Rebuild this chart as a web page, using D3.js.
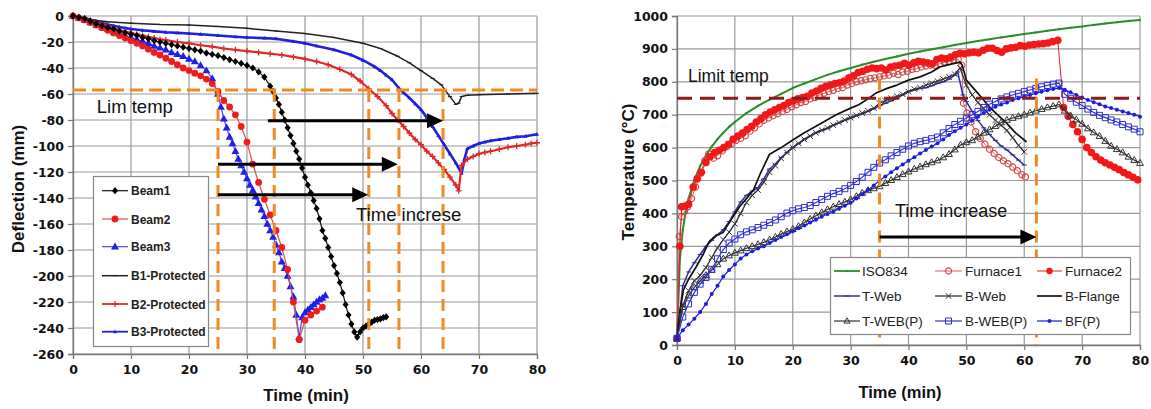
<!DOCTYPE html>
<html><head><meta charset="utf-8">
<script src="https://cdn.jsdelivr.net/npm/d3@7"></script>
<style>body{margin:0;background:#fff}svg{display:block}</style>
</head><body>
<svg id="c" width="1151" height="409"></svg>
<script>
// ---------------- LEFT PANEL DATA (Deflection, mm vs time, min) ----------------
const timeTicks = [0,10,20,30,40,50,60,70,80];
const deflTicks = [0,-20,-40,-60,-80,-100,-120,-140,-160,-180,-200,-220,-240,-260];
const tempTicks = [0,100,200,300,400,500,600,700,800,900,1000];

const beam1 = [[0,0],[1,-1],[2,-2],[3,-4],[4,-6],[5,-7.5],[6,-9],[7,-10],[8,-11.5],[9,-13],[10,-14],[11,-15],[12,-16.5],[13,-17.5],[14,-19],[15,-20],[16,-21],[17,-22],[18,-23],[19,-24],[20,-25],[21,-26],[22,-27],[23,-28.5],[24,-29.5],[25,-30.5],[26,-32],[27,-33.5],[28,-35],[29,-36.5],[30,-38],[31,-40],[32,-43],[33,-47],[34,-54],[34.5,-58],[35,-63],[35.5,-68],[36,-74],[36.5,-80],[37,-86],[37.5,-92],[38,-98],[38.5,-104],[39,-110],[39.5,-117],[40,-124],[40.5,-130],[41,-136],[41.5,-142],[42,-148],[42.5,-156],[43,-165],[43.5,-171],[44,-178],[44.5,-185],[45,-192],[45.5,-198],[46,-205],[46.5,-213],[47,-222],[47.5,-230],[48,-237],[48.5,-243],[49,-247],[49.5,-243],[50,-240],[50.5,-238.5],[51,-237],[51.5,-235.5],[52,-234],[52.5,-233.5],[53,-233],[53.5,-232],[54,-231.5]];
const beam2 = [[0,0],[1,-1.5],[2,-3],[3,-5],[4,-7],[5,-9],[6,-11],[7,-13],[8,-15],[9,-17],[10,-19],[11,-21],[12,-23],[13,-25.5],[14,-28],[15,-30],[16,-32.5],[17,-35],[18,-37.5],[19,-40],[20,-42],[21,-44],[22,-46],[23,-48.5],[24,-52],[25,-58],[26,-65],[27,-70],[28,-76],[29,-85],[30,-97],[31,-114],[32,-128],[33,-141],[34,-153],[35,-165],[36,-178],[37,-195],[38,-220],[39,-249],[40,-234],[41,-230],[42,-227],[43,-224]];
const beam3 = [[0,0],[1,-1.5],[2,-3],[3,-5],[4,-7],[5,-8.5],[6,-10],[7,-12],[8,-13.5],[9,-15],[10,-16.5],[11,-18],[12,-19.5],[13,-21],[14,-23],[15,-24.5],[16,-26],[17,-28],[18,-29.5],[19,-31],[20,-33],[21,-35],[22,-38],[23,-42],[24,-48],[25,-60],[25.5,-70],[26,-79],[26.5,-86],[27,-93],[27.5,-98],[28,-104],[28.5,-110],[29,-115],[29.5,-120],[30,-125],[30.5,-130],[31,-134],[31.5,-139],[32,-144],[32.5,-149],[33,-154],[33.5,-160],[34,-165],[34.5,-170],[35,-176],[35.5,-182],[36,-189],[36.5,-194],[37,-200],[37.5,-208],[38,-216],[38.5,-230],[39,-247],[39.5,-232],[40,-228],[40.5,-226],[41,-224],[41.5,-222],[42,-220],[42.5,-218],[43,-217],[43.5,-215]];
const b1p = [[0,0],[2,-2],[4,-3.5],[6,-4.5],[8,-5],[10,-5.5],[15,-6.5],[20,-7],[25,-8],[30,-9.5],[35,-11.5],[40,-13.5],[45,-16.5],[50,-21],[53,-25],[56,-31],[58,-36],[60,-42],[62,-48],[63.5,-53],[65,-62],[66,-68],[66.5,-67],[67,-62],[68,-61],[70,-60.5],[75,-60],[80,-59.5]];
const b2p = [[0,0],[1,-1],[2,-2],[3,-3.5],[4,-5],[5,-6.5],[6,-8],[7,-9.5],[8,-11],[9,-12],[10,-13],[11,-14],[12,-15],[13,-16],[14,-17],[15,-18],[16,-18.5],[18,-20],[20,-21],[22,-22.5],[24,-23.5],[26,-25],[28,-26],[30,-27],[32,-28],[34,-29],[36,-30],[38,-31.5],[40,-33],[42,-35],[44,-37.5],[46,-41],[48,-45],[49.5,-50],[51,-56],[52.5,-62],[54,-69],[55,-75],[56,-80],[57,-85],[58,-90],[59,-95],[60,-99],[61,-104],[62,-108],[63,-113],[64,-118],[65,-124],[66,-130],[66.5,-134.5],[67,-115],[68,-110],[69,-108],[70,-106],[71,-105],[72,-104],[73.5,-102.5],[75,-101],[76.5,-100],[78,-99],[79,-98],[80,-97.5]];
const b3p = [[0,0],[1,-0.8],[2,-1.5],[3,-2.8],[4,-4],[5,-5.3],[6,-6.5],[7,-7.5],[8,-8.5],[9,-9.3],[10,-10],[12,-11],[14,-11.8],[16,-12.5],[18,-13],[20,-13.5],[22,-14],[25,-15],[28,-16],[30,-16.5],[33,-17],[35,-17.5],[38,-19.5],[40,-21],[42,-23],[45,-26],[48,-30],[50,-34],[52,-39],[53,-42],[54,-45.5],[55,-49],[56.2,-55.6],[57,-59],[58,-63],[59,-67.5],[60,-72],[61,-78],[62,-85],[63,-92],[64,-99],[65,-106],[66,-113],[67,-121],[67.5,-110],[68,-102],[69,-100],[70,-98],[71,-97],[72,-96],[73.5,-95],[75,-94],[76.5,-93],[78,-92.5],[80,-91]];

// left annotations
const limDefl = -57;
const limTimesLeft = [25, 34.7, 51, 56.2, 63.8];
const arrowsLeft = [[33.6, 63.8, -80.5], [25, 56, -114], [25, 50.9, -137.5]];

// ---------------- RIGHT PANEL DATA (Temperature, °C vs time, min) ----------------
const iso834 = [[0,20],[0.5,260],[1,349],[1.5,405],[2,445],[3,502],[4,544],[5,576],[6,603],[7,626],[8,645],[9,663],[10,678],[12,705],[14,727],[16,746],[18,763],[20,781],[22,795],[24,808],[26,821],[28,832],[30,842],[32,852],[34,861],[36,869],[38,877],[40,885],[42,892],[44,899],[46,905],[48,912],[50,918],[52,924],[54,929],[56,935],[58,940],[60,945],[62,950],[64,955],[66,960],[68,964],[70,968],[72,973],[74,977],[76,981],[78,985],[80,988]];
const furnace1 = [[0,20],[0.4,330],[0.8,390],[1.3,405],[1.8,420],[2.5,445],[3.2,480],[4,520],[4.8,560],[5.5,581],[6.3,568],[7,575],[7.8,590],[8.6,603],[9.4,612],[10.2,622],[11,628],[11.8,636],[12.6,650],[13.4,660],[14.2,672],[15,683],[15.8,690],[16.6,697],[17.4,703],[18.2,710],[19,716],[19.8,724],[20.6,730],[21.4,737],[22.2,740],[23,748],[23.8,752],[24.6,760],[25.4,765],[26.2,770],[27,774],[27.8,780],[28.6,782],[29.4,790],[30.2,795],[31,800],[31.8,803],[32.6,806],[33.4,810],[34.2,812],[35,815],[35.8,818],[36.6,820],[37.4,826],[38.2,822],[39,830],[39.8,832],[40.6,838],[41.4,840],[42.2,845],[43,848],[43.8,851],[44.6,850],[45.4,855],[46.2,860],[47,862],[47.8,866],[48.6,868],[49.2,850],[49.5,735],[50.1,705],[50.8,678],[51.6,648],[52.4,628],[53.2,610],[54,595],[54.8,582],[55.6,570],[56.4,560],[57.2,551],[58,541],[58.8,530],[59.6,518],[60.2,511]];
const furnace2 = [[0,20],[0.5,300],[0.8,420],[1.4,422],[2,428],[2.8,480],[3.5,505],[4.2,525],[5,555],[5.7,572],[6.5,585],[7.3,592],[8.1,600],[8.9,610],[9.7,625],[10.5,635],[11.3,644],[12.1,655],[12.9,665],[13.7,678],[14.5,688],[15.3,700],[16.1,708],[16.9,715],[17.7,722],[18.5,728],[19.3,737],[20.1,742],[20.9,748],[21.7,752],[22.5,756],[23.3,766],[24.1,772],[24.9,780],[25.7,786],[26.5,790],[27.3,795],[28.1,797],[28.9,802],[29.7,812],[30.5,818],[31.3,828],[32.1,832],[32.9,838],[33.7,842],[34.5,840],[35.3,842],[36.1,836],[36.9,845],[37.7,848],[38.5,850],[39.3,856],[40.1,850],[40.9,858],[41.7,862],[42.5,860],[43.3,858],[44.1,855],[44.9,868],[45.7,872],[46.5,870],[47.3,875],[48.1,882],[48.9,887],[49.7,885],[50.5,888],[51.3,890],[52.1,888],[52.9,896],[53.7,902],[54.5,902],[55.3,895],[56.1,890],[56.9,900],[57.7,903],[58.5,905],[59.3,910],[60.1,908],[60.9,912],[61.7,913],[62.5,915],[63.3,916],[64.1,918],[64.9,922],[65.8,926],[66.8,722],[67.6,695],[68.4,670],[69.2,648],[70,625],[70.8,600],[71.6,585],[72.4,572],[73.2,562],[74,554],[74.8,547],[75.6,540],[76.4,533],[77.2,524],[78,517],[78.8,510],[79.6,502]];
const tWeb = [[0,20],[1,180],[2,222],[3,250],[4,275],[5,300],[6,318],[7,335],[8,350],[9,375],[10,405],[11,435],[12,455],[13,468],[14,478],[15,505],[16,535],[17,550],[18,570],[19,585],[20,600],[21,612],[22,625],[23,635],[24,645],[25,652],[26,658],[27,668],[28,675],[29,683],[30,690],[31,697],[32,703],[33,710],[34,718],[35,728],[36,735],[37,742],[38,750],[39,760],[40,770],[41,775],[42,780],[43,782],[44,788],[45,795],[46,800],[47,808],[48,820],[48.5,830],[49.4,760],[50,740],[51,710],[52,682],[53,660],[54,640],[55,622],[56,605],[57,593],[58,578],[59,562],[60,547]];
const bWeb = [[0,20],[1,120],[2,165],[3,195],[4,212],[5,235],[6,266],[7,295],[8,320],[9,343],[10,368],[11,400],[12,433],[13,455],[14,471],[15,495],[16,525],[17,545],[18,567],[19,585],[20,600],[21,613],[22,625],[23,635],[24,645],[25,653],[26,660],[27,668],[28,676],[29,684],[30,691],[31,698],[32,705],[33,712],[34,720],[35,735],[36,742],[37,750],[38,756],[39,762],[40,770],[41,778],[42,782],[43,790],[44,796],[45,802],[46,808],[47,815],[48,823],[48.9,842],[50,790],[51,760],[52,737],[53,718],[54,700],[55,683],[56,668],[57,652],[58,630],[59,607],[60,587]];
const bFlange = [[0,20],[0.5,100],[1.1,167],[2,200],[3.3,237],[4.5,275],[5.5,313],[6.5,330],[8,343],[9.5,385],[10.8,420],[12,445],[13.2,471],[14.5,525],[16,580],[18,600],[20,623],[22,645],[24.7,672],[27.5,700],[30,720],[31.4,730],[33,748],[34.3,765],[36.3,780],[38,790],[40,805],[42,815],[44,830],[45.4,845],[47,852],[48.9,860],[49.3,850],[50,805],[52,765],[54,723],[55.5,698],[56.9,675],[58.5,645],[60.4,617]];
const tWebP = [[0,20],[1,115],[2,150],[3,175],[4,195],[5,212],[6,228],[7,245],[8,262],[9,272],[10,280],[11,287],[12,294],[13,300],[14,306],[15,312],[16,320],[17,328],[18,337],[19,345],[20,352],[21,361],[22,372],[23,383],[24,393],[25,403],[26,412],[27,420],[28,428],[29,435],[30,442],[31,452],[32,462],[33,470],[34,476],[35,482],[36,492],[37,501],[38,510],[39,519],[40,527],[41,535],[42,542],[43,549],[44,555],[45,561],[46,570],[47,580],[48,594],[49,608],[50,616],[51,622],[52,633],[53,645],[54,655],[55,665],[56,676],[57,684],[58,690],[59,695],[60,700],[61,706],[62,712],[63,717],[64,722],[65,726],[66,731],[67,712],[68,697],[69,685],[70,672],[71,658],[72,646],[73,635],[74,620],[75,605],[76,595],[77,585],[78,572],[79,562],[80,553]];
const bWebP = [[0,20],[1,85],[2,125],[3,160],[4,185],[5,205],[6,230],[7,262],[8,290],[9,310],[10,322],[11,335],[12,344],[13,350],[14,357],[15,364],[16,372],[17,380],[18,390],[19,401],[20,408],[21,414],[22,418],[23,424],[24,433],[25,442],[26,452],[27,460],[28,467],[29,475],[30,485],[31,497],[32,510],[33,525],[34,540],[35,553],[36,563],[37,575],[38,585],[39,595],[40,605],[41,613],[42,618],[43,622],[44,627],[45,632],[46,645],[47,658],[48,670],[49,680],[50,690],[51,700],[52,710],[53,722],[54,732],[55,740],[56,748],[57,754],[58,760],[59,765],[60,770],[61,775],[62,780],[63,785],[64,789],[65,793],[66,796],[67,762],[68,750],[69,738],[70,728],[71,717],[72,707],[73,698],[74,691],[75,684],[76,678],[77,670],[78,663],[79,656],[80,648]];
const bfP = [[0,20],[1,45],[2,62],[3,80],[4,100],[5,125],[6,155],[7,180],[8,208],[9,228],[10,245],[11,263],[12,275],[13,285],[14,293],[15,300],[16,310],[17,319],[18,328],[19,337],[20,346],[21,355],[22,363],[23,372],[24,381],[25,390],[26,398],[27,405],[28,414],[29,423],[30,432],[31,445],[32,458],[33,471],[34,485],[35,500],[36,512],[37,525],[38,537],[39,549],[40,560],[41,571],[42,582],[43,593],[44,603],[45,613],[46,625],[47,638],[48,650],[49,660],[50,670],[51,682],[52,694],[53,705],[54,715],[55,724],[56,731],[57,737],[58,745],[59,750],[60,755],[61,760],[62,765],[63,770],[64,774],[65,778],[66,781],[67,776],[68,768],[69,760],[70,752],[71,745],[72,738],[73,732],[74,725],[75,720],[76,715],[77,710],[78,705],[79,700],[80,694]];

// right annotations
const limTemp = 750;
const limTimesRight = [35, 62.1];
const limTopRight = 810;
const arrowRight = [35, 62.1, 328];

// ---------------- DRAWING ----------------
const svg = d3.select('#c');
const FONT = "'Liberation Sans', Arial, sans-serif";
const TICKFONT = "'DejaVu Sans', sans-serif";

function markerPath(type, s) {
  switch (type) {
    case 'diamond': return `M0,${-s}L${s*0.85},0L0,${s}L${-s*0.85},0Z`;
    case 'circle': return `M${-s},0a${s},${s} 0 1,0 ${2*s},0a${s},${s} 0 1,0 ${-2*s},0Z`;
    case 'triangle': return `M0,${-s}L${s*0.95},${s*0.65}L${-s*0.95},${s*0.65}Z`;
    case 'square': return `M${-s},${-s}H${s}V${s}H${-s}Z`;
    case 'x': return `M${-s},${-s}L${s},${s}M${-s},${s}L${s},${-s}`;
    case 'plus': return `M${-s},0H${s}M0,${-s}V${s}`;
    case 'dash': return `M${-s},0H${s}`;
  }
  return '';
}

function drawPanel(cfg) {
  const x = d3.scaleLinear().domain([0, 80]).range(cfg.xr);
  const y = d3.scaleLinear().domain(cfg.yd).range(cfg.yr);
  const g = svg.append('g');
  const yTop = Math.min(...cfg.yr), yBot = Math.max(...cfg.yr);
  // grid
  g.append('g').selectAll('line').data(timeTicks).join('line')
    .attr('x1', d => x(d)).attr('x2', d => x(d)).attr('y1', yTop).attr('y2', yBot)
    .attr('stroke', '#9a9a9a').attr('stroke-width', 1.2);
  g.append('g').selectAll('line').data(cfg.yTicks).join('line')
    .attr('x1', cfg.xr[0]).attr('x2', cfg.xr[1]).attr('y1', d => y(d)).attr('y2', d => y(d))
    .attr('stroke', '#9a9a9a').attr('stroke-width', 1.2);
  // axes
  const ax = g.append('g').attr('transform', `translate(0,${yBot})`)
    .call(d3.axisBottom(x).tickValues(timeTicks).tickSize(5).tickPadding(6).tickFormat(d => String(d)));
  const ay = g.append('g').attr('transform', `translate(${cfg.xr[0]},0)`)
    .call(d3.axisLeft(y).tickValues(cfg.yTicks).tickSize(5).tickPadding(4).tickFormat(d => String(d)));
  [ax, ay].forEach(a => {
    a.select('.domain').attr('stroke', '#777').attr('stroke-width', 1.3);
    a.selectAll('.tick line').attr('stroke', '#777').attr('stroke-width', 1.2);
    a.selectAll('.tick text').attr('font-family', TICKFONT).attr('font-weight', 'bold')
      .attr('font-size', 12.5).attr('fill', '#111');
  });
  return { g, x, y };
}

function drawSeries(P, list) {
  const line = d3.line().x(d => P.x(d[0])).y(d => P.y(d[1]));
  list.forEach(s => {
    const sg = P.g.append('g');
    sg.append('path').datum(s.data).attr('d', line).attr('fill', 'none')
      .attr('stroke', s.color).attr('stroke-width', s.lw).attr('stroke-linejoin', 'round');
    if (s.mk) {
      sg.selectAll('path.m').data(s.data).join('path').attr('class', 'm')
        .attr('transform', d => `translate(${P.x(d[0])},${P.y(d[1])})`)
        .attr('d', markerPath(s.mk, s.ms))
        .attr('fill', s.fill || 'none').attr('stroke', s.stroke || 'none')
        .attr('stroke-width', s.sw || 1);
    }
  });
}

function arrow(g, x1, x2, yy) {
  g.append('line').attr('x1', x1).attr('x2', x2 - 14).attr('y1', yy).attr('y2', yy)
    .attr('stroke', '#000').attr('stroke-width', 3);
  g.append('path').attr('d', `M${x2},${yy}L${x2-16},${yy-7.5}L${x2-16},${yy+7.5}Z`).attr('fill', '#000');
}

// ---- Left panel
const L = drawPanel({ xr: [73, 537], yd: [-260, 0], yr: [354, 16], yTicks: deflTicks });
const leftSeries = [
  { name: 'Beam1', data: beam1, color: '#111', lw: 1.2, mk: 'diamond', ms: 3.6, fill: '#000' },
  { name: 'Beam2', data: beam2, color: '#d45050', lw: 1.2, mk: 'circle', ms: 3.4, fill: '#ee1c1c' },
  { name: 'Beam3', data: beam3, color: '#4a4af0', lw: 1.2, mk: 'triangle', ms: 4.2, fill: '#1f1fe8' },
  { name: 'B1-Protected', data: b1p, color: '#222', lw: 1.5, mk: 'dash', ms: 2, stroke: '#222' },
  { name: 'B2-Protected', data: b2p, color: '#e02828', lw: 2.2, mk: 'plus', ms: 3, stroke: '#e02828', sw: 1.3 },
  { name: 'B3-Protected', data: b3p, color: '#1f1fe0', lw: 2.6, mk: 'triangle', ms: 2.2, fill: '#1f1fe0' }
];
drawSeries(L, leftSeries.slice().reverse());
// limit lines
L.g.append('line').attr('x1', L.x(0)).attr('x2', L.x(80)).attr('y1', L.y(limDefl)).attr('y2', L.y(limDefl))
  .attr('stroke', '#f08a24').attr('stroke-width', 3).attr('stroke-dasharray', '13,6');
L.g.append('g').selectAll('line').data(limTimesLeft).join('line')
  .attr('x1', d => L.x(d)).attr('x2', d => L.x(d)).attr('y1', L.y(limDefl)).attr('y2', L.y(-260))
  .attr('stroke', '#f08a24').attr('stroke-width', 3).attr('stroke-dasharray', '12,7');
arrowsLeft.forEach(a => arrow(L.g, L.x(a[0]), L.x(a[1]), L.y(a[2])));
L.g.append('text').attr('x', L.x(4.1)).attr('y', 113).text('Lim temp')
  .attr('font-family', FONT).attr('font-size', 18.5).attr('fill', '#111');
L.g.append('text').attr('x', 356).attr('y', 221).text('Time increse')
  .attr('font-family', FONT).attr('font-size', 18.5).attr('fill', '#111');
// left legend
const lg = svg.append('g');
lg.append('rect').attr('x', 93.5).attr('y', 176.5).attr('width', 115).attr('height', 170)
  .attr('fill', '#fff').attr('stroke', '#888').attr('stroke-width', 1.2);
const lrows = [190.7, 219, 246.7, 275.7, 304, 331.7];
leftSeries.forEach((s, i) => {
  const yy = lrows[i];
  lg.append('line').attr('x1', 102).attr('x2', 128).attr('y1', yy).attr('y2', yy)
    .attr('stroke', s.color).attr('stroke-width', Math.min(s.lw, 1.8));
  lg.append('path').attr('transform', `translate(115,${yy})`).attr('d', markerPath(s.mk, s.ms))
    .attr('fill', s.fill || 'none').attr('stroke', s.stroke || 'none').attr('stroke-width', s.sw || 1);
  lg.append('text').attr('x', 131).attr('y', yy + 4.5).text(s.name)
    .attr('font-family', FONT).attr('font-weight', 'bold').attr('font-size', 12).attr('fill', '#222');
});
// axis titles
svg.append('text').attr('transform', 'translate(24,189) rotate(-90)').attr('text-anchor', 'middle')
  .text('Deflection (mm)').attr('font-family', FONT).attr('font-weight', 'bold').attr('font-size', 17).attr('fill', '#111');
svg.append('text').attr('x', 306).attr('y', 401).attr('text-anchor', 'middle')
  .text('Time (min)').attr('font-family', FONT).attr('font-weight', 'bold').attr('font-size', 17).attr('fill', '#111');

// ---- Right panel
const R = drawPanel({ xr: [677, 1140], yd: [0, 1000], yr: [345, 16], yTicks: tempTicks });
const rightSeries = [
  { name: 'ISO834', data: iso834, color: '#2a8c2a', lw: 2, mk: 'circle', ms: 1.1, fill: '#2a8c2a' },
  { name: 'Furnace1', data: furnace1, color: '#d06060', lw: 1, mk: 'circle', ms: 3.1, stroke: '#d04848', sw: 1.2 },
  { name: 'Furnace2', data: furnace2, color: '#e02020', lw: 1, mk: 'circle', ms: 3.8, fill: '#f01818' },
  { name: 'T-Web', data: tWeb, color: '#2c2c9c', lw: 1.5, mk: 'dash', ms: 2.5, stroke: '#2c2c9c' },
  { name: 'B-Web', data: bWeb, color: '#333', lw: 1.3, mk: 'x', ms: 2.8, stroke: '#333' },
  { name: 'B-Flange', data: bFlange, color: '#111', lw: 1.7, mk: null },
  { name: 'T-WEB(P)', data: tWebP, color: '#333', lw: 1.2, mk: 'triangle', ms: 3.6, stroke: '#333' },
  { name: 'B-WEB(P)', data: bWebP, color: '#3838c8', lw: 1.2, mk: 'square', ms: 3, stroke: '#2d2dd0' },
  { name: 'BF(P)', data: bfP, color: '#1c1ce0', lw: 1.2, mk: 'circle', ms: 2, fill: '#1c1ce0' }
];
drawSeries(R, rightSeries);
R.g.append('line').attr('x1', R.x(0)).attr('x2', R.x(80)).attr('y1', R.y(limTemp)).attr('y2', R.y(limTemp))
  .attr('stroke', '#8b1a1a').attr('stroke-width', 3).attr('stroke-dasharray', '15,8');
R.g.append('g').selectAll('line').data(limTimesRight).join('line')
  .attr('x1', d => R.x(d)).attr('x2', d => R.x(d)).attr('y1', R.y(limTopRight)).attr('y2', R.y(0))
  .attr('stroke', '#f08a24').attr('stroke-width', 3).attr('stroke-dasharray', '12,7');
arrow(R.g, R.x(arrowRight[0]), R.x(arrowRight[1]), R.y(arrowRight[2]));
R.g.append('text').attr('x', 688).attr('y', 82).text('Limit temp')
  .attr('font-family', FONT).attr('font-size', 17.5).attr('fill', '#111');
R.g.append('text').attr('x', 895).attr('y', 217).text('Time increase')
  .attr('font-family', FONT).attr('font-size', 18).attr('fill', '#111');
// right legend
const rg = svg.append('g');
rg.append('rect').attr('x', 830.5).attr('y', 257.5).attr('width', 300).attr('height', 77)
  .attr('fill', '#fff').attr('stroke', '#888').attr('stroke-width', 1.2);
const rcols = [[834, 860, 862], [935, 962, 965], [1037, 1062, 1065]];
const rrows = [271, 296, 321];
rightSeries.forEach((s, i) => {
  const c = rcols[i % 3], yy = rrows[Math.floor(i / 3)];
  rg.append('line').attr('x1', c[0]).attr('x2', c[1]).attr('y1', yy).attr('y2', yy)
    .attr('stroke', s.color).attr('stroke-width', Math.min(s.lw, 1.8));
  if (s.mk) rg.append('path').attr('transform', `translate(${(c[0] + c[1]) / 2},${yy})`)
    .attr('d', markerPath(s.mk, Math.min(s.ms, 3.2)))
    .attr('fill', s.fill || 'none').attr('stroke', s.stroke || 'none').attr('stroke-width', s.sw || 1);
  rg.append('text').attr('x', c[2]).attr('y', yy + 5).text(s.name)
    .attr('font-family', FONT).attr('font-size', 13.5).attr('fill', '#222');
});
svg.append('text').attr('transform', 'translate(634,172) rotate(-90)').attr('text-anchor', 'middle')
  .text('Temperature (°C)').attr('font-family', FONT).attr('font-weight', 'bold').attr('font-size', 17).attr('fill', '#111');
svg.append('text').attr('x', 900).attr('y', 398).attr('text-anchor', 'middle')
  .text('Time (min)').attr('font-family', FONT).attr('font-weight', 'bold').attr('font-size', 16.5).attr('fill', '#111');
</script>
</body></html>
